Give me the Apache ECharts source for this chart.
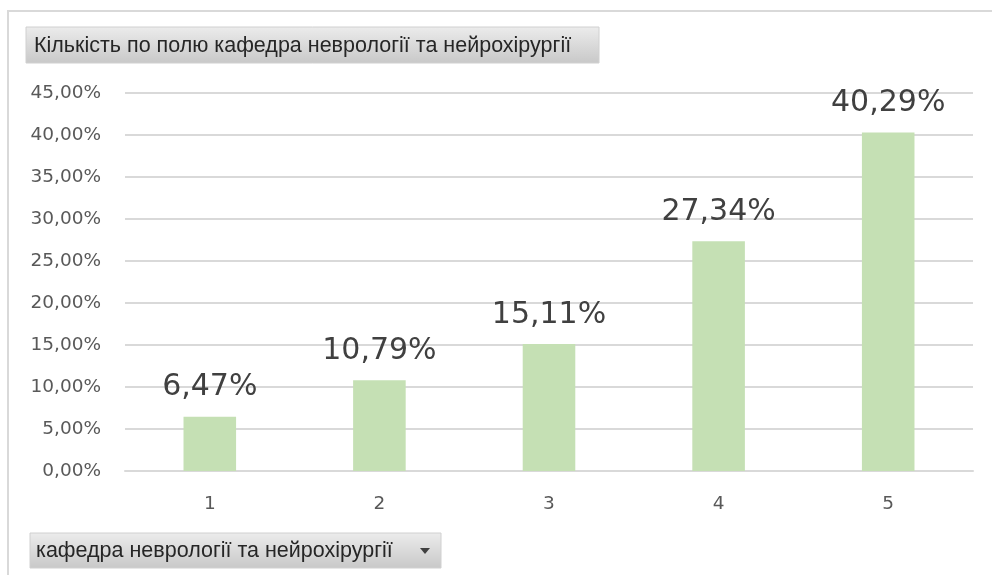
<!DOCTYPE html>
<html>
<head>
<meta charset="utf-8">
<script src="https://cdn.jsdelivr.net/npm/echarts@6/dist/echarts.min.js"></script>
<style>
  html, body { margin: 0; padding: 0; background: #fff; }
  #chart { width: 992px; height: 575px; }
</style>
</head>
<body>
<div id="chart"></div>
<script>
// дані
var categories = ['1', '2', '3', '4', '5'];
var shares = [6.47, 10.79, 15.11, 27.34, 40.29];
var titleText = 'Кількість по полю кафедра неврології та нейрохірургії';
var filterText = 'кафедра неврології та нейрохірургії';

function pct(v) {
	return v.toFixed(2).replace('.', ',') + '%';
}

var btnFill = new echarts.graphic.LinearGradient(0, 0, 0, 1, [
	{ offset: 0, color: '#ececec' },
	{ offset: 1, color: '#c8c8c8' }
]);
var btnFont = 'Liberation Sans';

var chart = echarts.init(document.getElementById('chart'));
chart.setOption({
	animation: false,
	grid: { left: 125, right: 19, top: 93, bottom: 104 },
	xAxis: {
		type: 'category',
		data: categories,
		axisLine: { show: true, lineStyle: { color: '#d9d9d9', width: 2 } },
		axisTick: { show: false },
		axisLabel: { color: '#595959', fontSize: 18.5, fontFamily: 'DejaVu Sans', margin: 24 }
	},
	yAxis: {
		type: 'value',
		min: 0,
		max: 45,
		interval: 5,
		axisLine: { show: false },
		axisTick: { show: false },
		splitLine: { lineStyle: { color: '#d9d9d9', width: 2 } },
		axisLabel: {
			color: '#595959', fontSize: 18.5, fontFamily: 'DejaVu Sans', margin: 24,
			formatter: function (v) { return pct(v); }
		}
	},
	series: [{
		type: 'bar',
		data: shares,
		barWidth: '31%',
		itemStyle: { color: '#c5e0b4' },
		label: {
			show: true,
			position: 'top',
			distance: 14,
			color: '#404040',
			fontSize: 30,
			fontFamily: 'DejaVu Sans',
			formatter: function (p) { return pct(p.value); }
		}
	}],
	graphic: [
		// рамка діаграми
		{ type: 'rect', shape: { x: 8, y: 11, width: 1000, height: 600 },
		  style: { fill: null, stroke: '#d9d9d9', lineWidth: 2 }, silent: true },
		// кнопка заголовка
		{ type: 'rect', shape: { x: 26, y: 27, width: 573, height: 36 },
		  style: { fill: btnFill, stroke: '#d0d0d0', lineWidth: 1 } },
		{ type: 'text', x: 34, y: 46,
		  style: { text: titleText, fill: '#262626', fontSize: 21.5, fontFamily: btnFont, verticalAlign: 'middle' } },
		// кнопка фільтра
		{ type: 'rect', shape: { x: 30, y: 533, width: 411, height: 35 },
		  style: { fill: btnFill, stroke: '#d0d0d0', lineWidth: 1 } },
		{ type: 'text', x: 36, y: 551,
		  style: { text: filterText, fill: '#262626', fontSize: 21.5, fontFamily: btnFont, verticalAlign: 'middle' } },
		{ type: 'polygon', shape: { points: [[420, 548], [430, 548], [425, 554]] },
		  style: { fill: '#404040' } }
	]
});
</script>
</body>
</html>
